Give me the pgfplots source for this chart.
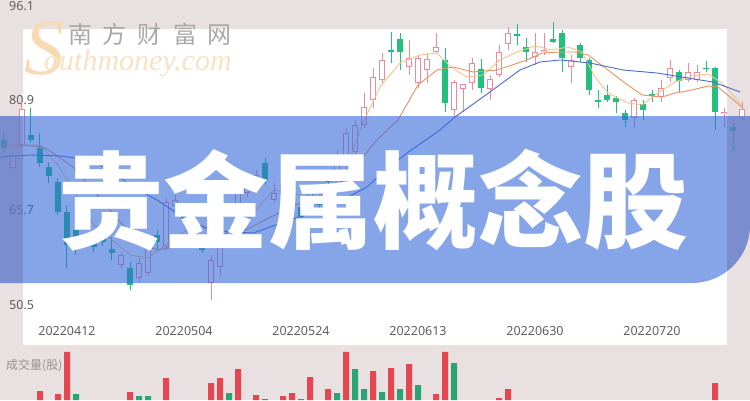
\documentclass[border=0pt]{standalone}
\usepackage{fontspec}
\usepackage{pgfplots}
\usepackage{pgfplotstable}
\pgfplotsset{compat=1.18}
\setmainfont{Noto Sans}
\newfontfamily\cjk{Noto Sans CJK SC}
\IfFontExistsTF{Noto Sans CJK SC Black}{\newfontfamily\cjktitle{Noto Sans CJK SC Black}}{\newfontfamily\cjktitle{Noto Sans CJK SC}[FakeBold=3.2]}
\newfontfamily\wmserif{Liberation Serif}

\definecolor{bg}{RGB}{233,224,226}
\definecolor{upc}{RGB}{239,138,155}
\definecolor{dnc}{RGB}{33,192,127}
\definecolor{ma5}{RGB}{245,196,140}
\definecolor{ma10}{RGB}{232,146,100}
\definecolor{ma20}{RGB}{76,107,208}
\definecolor{vred}{RGB}{230,70,79}
\definecolor{vgreen}{RGB}{40,165,115}
\definecolor{banner}{RGB}{52,105,217}
\definecolor{strip}{RGB}{120,128,190}
\definecolor{tickc}{RGB}{95,95,95}
\definecolor{lblc}{RGB}{150,145,147}
\definecolor{wmS}{RGB}{248,218,178}
\definecolor{wmgray}{RGB}{172,167,169}
\definecolor{wmorange}{RGB}{248,226,198}

\pgfplotstableread{
i O H L C
1 71.40 73.84 71.09 73.38
2 74.90 81.77 74.60 80.39
13 56.60 58.59 56.15 58.13
15 54.62 57.67 54.01 56.91
16 55.38 60.72 54.93 60.11
18 59.35 66.82 58.89 66.21
19 65.60 67.28 64.99 66.52
23 53.86 58.13 51.27 57.37
24 56.30 62.25 54.77 61.48
25 60.11 62.25 59.50 61.64
26 64.69 68.04 62.40 67.58
27 67.58 69.11 66.97 68.50
28 68.35 71.09 67.74 70.33
30 66.52 69.11 66.06 67.58
31 67.28 69.57 66.52 68.80
34 64.69 68.65 64.23 68.04
37 70.79 74.14 70.18 73.38
38 72.62 77.50 72.16 76.73
39 73.84 78.72 73.23 77.95
40 77.95 82.83 77.50 80.70
41 81.77 86.65 80.55 85.27
42 84.82 88.93 84.36 87.87
45 86.80 90.92 85.58 88.17
46 84.36 88.63 83.60 88.17
47 86.34 88.93 84.36 88.02
48 89.09 91.98 88.93 89.85
50 80.24 84.82 79.17 84.51
51 83.44 84.21 79.94 84.21
52 84.36 88.17 83.29 87.41
54 83.44 85.58 81.77 84.97
55 85.58 90.15 85.27 89.09
56 90.31 92.90 89.39 91.98
59 88.32 91.98 87.10 89.09
60 89.09 91.98 88.63 89.39
63 86.80 88.63 84.36 87.87
70 79.02 82.07 77.65 81.77
73 82.22 84.82 81.46 83.60
74 85.12 87.87 84.51 86.65
76 84.82 87.41 84.51 86.04
77 84.82 87.10 84.51 86.04
80 79.63 80.55 77.65 79.94
82 79.02 81.46 78.72 80.39
}\up

\pgfplotstableread{
i O H L C
0 75.67 76.89 73.84 74.45
3 76.43 80.55 75.21 75.67
4 74.45 76.73 71.55 72.16
5 71.55 72.31 69.11 70.18
6 69.26 69.87 64.23 64.69
7 64.69 65.75 56.15 59.65
8 61.94 63.16 58.13 60.42
9 64.53 65.30 61.94 63.01
10 60.42 60.87 58.59 59.35
11 61.18 62.25 59.50 60.11
12 59.04 60.87 57.37 58.43
14 56.15 57.06 52.79 53.55
17 61.18 61.94 58.89 60.11
20 64.23 64.99 62.55 63.16
21 63.92 64.69 61.94 63.01
22 59.35 60.87 58.43 58.89
29 72.16 72.92 68.80 69.57
32 70.33 71.09 64.99 65.45
33 65.45 66.06 63.16 63.92
35 66.52 67.28 64.99 65.75
36 70.33 71.09 68.35 69.26
43 89.39 92.14 87.41 89.09
44 91.07 91.98 86.34 89.09
49 87.87 89.70 79.94 81.31
53 86.49 88.02 82.83 83.60
57 91.83 93.36 90.15 91.53
58 89.85 91.22 87.56 89.09
61 91.07 93.66 90.46 90.61
62 91.98 92.44 86.04 88.17
64 90.15 90.46 87.56 88.17
65 87.87 88.17 82.53 83.29
66 81.77 83.29 80.55 81.46
67 82.53 84.05 81.46 81.77
68 82.07 82.38 79.78 81.46
69 79.78 80.24 77.65 78.72
71 81.16 81.77 78.72 80.24
72 82.68 83.29 81.46 82.38
75 86.04 86.34 82.99 84.66
78 86.65 87.71 86.04 86.42
79 86.65 86.80 77.19 79.94
81 77.65 78.26 74.14 77.04
}\down

\pgfplotstableread{
i v
4 9
6 6
7 48
14 8
18 22
23 17
24 22
26 31
28 5
31 4
32 7
34 23
36 11
38 48
41 29
43 32
45 36
48 6
49 48
55 2
56 11
79 17
}\volred

\pgfplotstableread{
i v
8 6
15 4
16 4
25 7
29 1
33 1
37 7
39 31
40 11
42 8
44 11
46 15
50 37
}\volgreen

\begin{document}
\begin{tikzpicture}
\path[use as bounding box] (0pt,0pt) rectangle (750pt,400pt);
\fill[bg] (0pt,0pt) rectangle (750pt,400pt);
\fill[white] (23pt,55pt) rectangle (727pt,371pt);

% watermark
\node[text=wmS, font=\wmserif\itshape\fontsize{80}{80}\selectfont, inner sep=0] at (44pt,352pt) {S};
\node[text=wmgray, font=\cjk\fontsize{24}{24}\selectfont, inner sep=0] at (150pt,366pt) {南\hspace{11pt}方\hspace{11pt}财\hspace{11pt}富\hspace{11pt}网};
\node[text=wmorange, font=\wmserif\itshape\fontsize{30}{30}\selectfont, inner sep=0, anchor=base west] at (44pt,330pt) {outhmoney.com};

\begin{axis}[at={(0pt,55pt)}, anchor=south west, width=750pt, height=345pt, scale only axis,
  xmin=-0.4444, xmax=82.8889, ymin=44.4025, ymax=97.015,
  axis line style={draw=none}, major tick length=0pt,
  /pgf/number format/assume math mode=true,
  ytick={96.1,81.77,64.99,50.5}, yticklabels={96.1,80.9,65.7,50.5},
  xtick={7,20,33,46,59,72},
  xticklabels={20220412,20220504,20220524,20220613,20220630,20220720},
  yticklabel style={anchor=west, inner sep=0pt, xshift=9pt, text=tickc, font=\fontsize{12.5}{13}\selectfont},
  xticklabel style={anchor=center, inner sep=0pt, yshift=14pt, text=tickc, font=\fontsize{12.5}{13}\selectfont},
  ]
% down candles
\addplot[dnc, line width=1pt, quiver={u=0, v=\thisrow{H}-\thisrow{L}}] table[x=i, y=L] {\down};
\addplot[dnc, line width=6.5pt, quiver={u=0, v=\thisrow{C}-\thisrow{O}}] table[x=i, y=O] {\down};
% up candles (hollow)
\addplot[upc, line width=1pt, quiver={u=0, v=\thisrow{H}-\thisrow{L}}] table[x=i, y=L] {\up};
\addplot[upc, line width=6.5pt, quiver={u=0, v=\thisrow{C}-\thisrow{O}}] table[x=i, y=O] {\up};
\addplot[white, line width=4.5pt, quiver={u=0, v=\thisrow{C}-\thisrow{O}-0.32}] table[x=i, y expr=\thisrow{O}+0.16] {\up};
% moving averages
\addplot[ma5, line width=0.9pt] coordinates {(-0.44,74.14) (2,74.90) (4,74.90) (6,71.85) (8,67.28) (10,62.70) (12,60.42) (14,58.13) (16,57.67) (18,59.65) (20,61.64) (22,62.70) (24,61.18) (26,61.94) (28,64.99) (30,68.04) (32,67.74) (34,66.52) (36,67.74) (38,71.09) (39.78,77.95) (41.78,83.75) (44,87.41) (46.22,88.63) (48.11,88.93) (49.78,86.65) (51.44,85.27) (53.22,85.58) (55.11,87.87) (57,89.09) (59,90.00) (60.89,89.39) (62.67,89.85) (64.22,89.09) (65.67,85.27) (67.11,82.83) (69.33,81.31) (70.89,81.00) (72.67,82.83) (74.56,84.51) (76.44,85.43) (78.22,85.73) (79.78,84.36) (82,81.00)};
\addplot[ma10, line width=0.9pt] coordinates {(-0.44,74.90) (2.11,74.90) (4.33,74.60) (5.44,73.68) (7.67,71.55) (9.89,68.04) (11.78,64.99) (13.67,61.94) (15.11,59.96) (17,58.89) (19,59.35) (21.22,60.42) (23.44,60.72) (25.67,61.18) (27.89,62.70) (30.11,64.23) (32.33,65.75) (34.56,66.52) (37,68.50) (39.89,73.07) (41.44,75.67) (43.78,78.72) (46,84.05) (48.11,86.34) (49.89,86.80) (52.11,86.04) (54.78,86.34) (58.11,87.87) (59.78,88.93) (62,89.09) (63.44,89.09) (64.89,88.63) (67.11,86.34) (69,84.36) (70.89,82.53) (73.11,82.22) (74.56,82.83) (76.44,83.29) (78.22,83.90) (79.33,83.75) (82,80.70)};
\addplot[ma20, line width=0.9pt] coordinates {(-0.44,73.07) (2.89,73.38) (6.22,73.23) (9.56,72.62) (11.78,71.09) (14.33,68.50) (17,66.52) (19.56,64.23) (22.33,62.25) (25.11,61.64) (27.67,61.48) (31.78,63.47) (36.22,65.45) (40.33,68.50) (41.78,70.33) (44.78,73.68) (48.44,77.19) (50.11,79.17) (54,82.99) (57.33,86.34) (59.56,87.56) (61.78,87.87) (65.11,87.41) (68.78,86.34) (72.56,85.88) (77.33,84.82) (78.78,84.51) (81.78,82.99)};
\end{axis}

% banner
\fill[banner, opacity=0.6] (0pt,117pt) -- (692pt,117pt) arc[start angle=-90, end angle=0, radius=58pt] -- (750pt,284pt) -- (0pt,284pt) -- cycle;
\begin{scope}
\clip (0pt,117pt) -- (692pt,117pt) arc[start angle=-90, end angle=0, radius=58pt] -- (750pt,284pt) -- (0pt,284pt) -- cycle;
\fill[strip, opacity=0.45] (0pt,117pt) rectangle (23pt,284pt);
\fill[strip, opacity=0.45] (727pt,117pt) rectangle (750pt,284pt);
\end{scope}
\node[text=white, font=\cjktitle\fontsize{105}{105}\selectfont, inner sep=0] at (373.5pt,200pt) {贵金属概念股};

% volume
\node[anchor=west, text=lblc, font=\cjk\fontsize{12}{12}\selectfont, inner sep=0] at (6pt,34pt) {成交量(股)};
\begin{axis}[at={(0pt,0pt)}, anchor=south west, width=750pt, height=55pt, scale only axis,
  xmin=-0.4444, xmax=82.8889, ymin=0, ymax=55, hide axis]
\addplot[ybar, bar width=6pt, bar shift=0pt, fill=vred, draw=none] table[x=i, y=v] {\volred};
\addplot[ybar, bar width=6pt, bar shift=0pt, fill=vgreen, draw=none] table[x=i, y=v] {\volgreen};
\end{axis}
\end{tikzpicture}
\end{document}
